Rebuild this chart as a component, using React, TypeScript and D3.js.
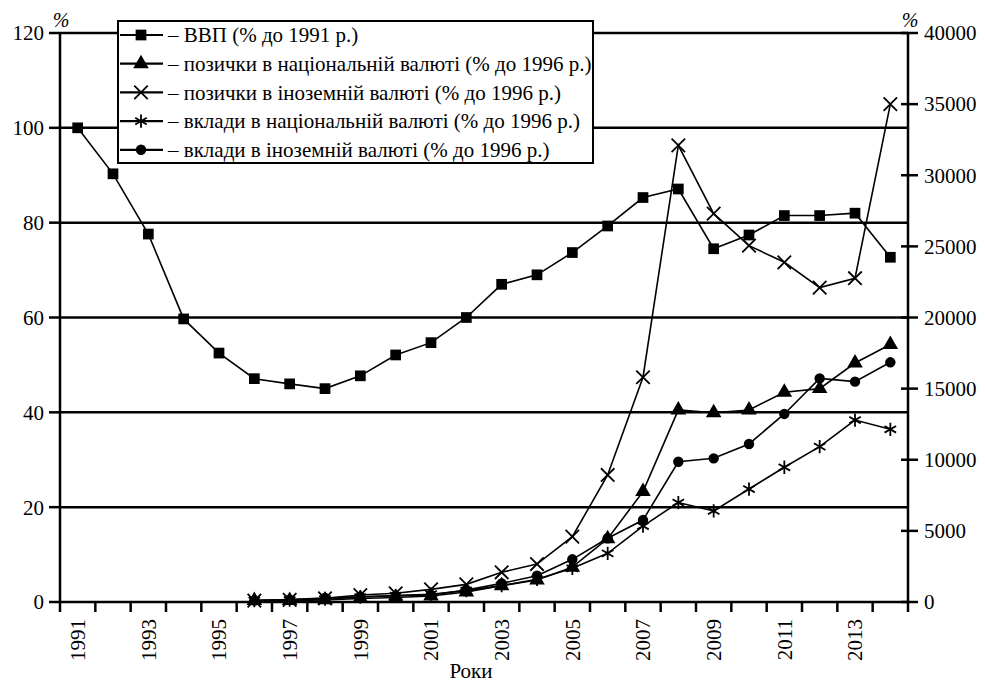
import React from "react";
import * as d3 from "d3";

const years = d3.range(1991, 2015).map(String);
const gdp = [100, 90.3, 77.6, 59.7, 52.5, 47.1, 46.0, 45.0, 47.7, 52.1, 54.7, 60.0, 67.0, 69.0, 73.7, 79.3, 85.3, 87.1, 74.5, 77.4, 81.5, 81.5, 82.0, 72.7];
const loansNatYears = d3.range(1996, 2015).map(String);
const loansNat = [100, 110, 150, 250, 320, 420, 700, 1150, 1550, 2450, 4450, 7760, 13500, 13300, 13500, 14750, 15000, 16800, 18100];
const loansFor = [100, 150, 260, 490, 610, 890, 1240, 2090, 2670, 4590, 8930, 15800, 32100, 27300, 25050, 23880, 22100, 22760, 35000];
const depNat = [100, 130, 200, 350, 450, 550, 800, 1150, 1600, 2370, 3420, 5340, 6990, 6400, 7940, 9470, 10920, 12790, 12140];
const depFor = [100, 170, 280, 370, 440, 490, 840, 1310, 1850, 3000, 4480, 5760, 9860, 10100, 11110, 13220, 15720, 15490, 16850];
const leftTicks = [0, 20, 40, 60, 80, 100, 120];
const rightTicks = d3.range(0, 40001, 5000);
const legendLabels = [
  "– ВВП (% до 1991 р.)",
  "– позички в національній валюті (% до 1996 р.)",
  "– позички в іноземній валюті (% до 1996 р.)",
  "– вклади в національній валюті (% до 1996 р.)",
  "– вклади в іноземній валюті (% до 1996 р.)",
];

const W = 985, H = 684;
const L = 60, R = 908, T = 33, B = 602;
const FONT = "Liberation Serif, Tinos, Times New Roman, DejaVu Serif, serif";

type Mk = "square" | "triangle" | "times" | "asterisk" | "circle";
const symType: Record<Mk, d3.SymbolType> = {
  square: d3.symbolSquare,
  triangle: d3.symbolTriangle,
  times: d3.symbolTimes,
  asterisk: d3.symbolAsterisk,
  circle: d3.symbolCircle,
};
const symSize: Record<Mk, number> = { square: 115, triangle: 105, times: 120, asterisk: 125, circle: 85 };

function Marker({ kind, x, y }: { kind: Mk; x: number; y: number }) {
  const p = d3.symbol().type(symType[kind]).size(symSize[kind])()!;
  const stroke = kind === "times" || kind === "asterisk";
  return (
    <path
      d={p}
      transform={`translate(${x},${y})`}
      fill={stroke ? "none" : "#000"}
      stroke={stroke ? "#000" : "none"}
      strokeWidth={stroke ? 1.8 : 0}
    />
  );
}

const ts: React.CSSProperties = { fontFamily: FONT };

export default function App() {
  const x = d3.scaleBand().domain(years).range([L, R]).padding(0);
  const bw = x.bandwidth();
  const cx = (yr: string) => (x(yr) as number) + bw / 2;
  const yL = d3.scaleLinear().domain([0, 120]).range([B, T]);
  const yR = d3.scaleLinear().domain([0, 40000]).range([B, T]);

  const series: { kind: Mk; yrs: string[]; vals: number[]; scale: d3.ScaleLinear<number, number> }[] = [
    { kind: "square", yrs: years, vals: gdp, scale: yL },
    { kind: "triangle", yrs: loansNatYears, vals: loansNat, scale: yR },
    { kind: "times", yrs: loansNatYears, vals: loansFor, scale: yR },
    { kind: "asterisk", yrs: loansNatYears, vals: depNat, scale: yR },
    { kind: "circle", yrs: loansNatYears, vals: depFor, scale: yR },
  ];

  const line = d3.line<[number, number]>().x((d) => d[0]).y((d) => d[1]);

  const lgX = 118, lgY = 21, lgW = 475, lgH = 142, rowH = 28.7;

  return (
    <svg width={W} height={H} style={{ position: "absolute", left: 0, top: 0, background: "#fff", fontFamily: FONT }}>
      <rect x={0} y={0} width={W} height={H} fill="#fff" />
      {leftTicks.filter((t) => t > 0).map((t) => (
        <line key={"g" + t} x1={L} x2={R} y1={yL(t)} y2={yL(t)} stroke="#000" strokeWidth={2.5} />
      ))}
      <line x1={L} x2={L} y1={T} y2={B} stroke="#000" strokeWidth={2.5} />
      {leftTicks.map((t) => (
        <g key={"l" + t}>
          <line x1={L - 11} x2={L} y1={yL(t)} y2={yL(t)} stroke="#000" strokeWidth={2.5} />
          <text x={L - 16} y={yL(t)} dy="0.35em" textAnchor="end" fontSize={21} style={ts}>{t}</text>
        </g>
      ))}
      <line x1={R} x2={R} y1={T} y2={B} stroke="#000" strokeWidth={2.5} />
      {rightTicks.map((t) => (
        <g key={"r" + t}>
          <line x1={R - 7} x2={R + 10} y1={yR(t)} y2={yR(t)} stroke="#000" strokeWidth={2.5} />
          <text x={R + 16} y={yR(t)} dy="0.35em" textAnchor="start" fontSize={21} style={ts}>{t}</text>
        </g>
      ))}
      <line x1={L} x2={R} y1={B} y2={B} stroke="#000" strokeWidth={2.5} />
      {[...years.map((yr) => x(yr) as number), R].map((px, i) => (
        <line key={"bt" + i} x1={px} x2={px} y1={B} y2={B + 10} stroke="#000" strokeWidth={2.5} />
      ))}
      {years.filter((_, i) => i % 2 === 0).map((yr) => (
        <text key={"yl" + yr} transform={`translate(${cx(yr)},${B + 17}) rotate(-90)`} dy="0.35em" textAnchor="end" fontSize={21} style={ts}>{yr}</text>
      ))}
      <text x={471} y={678} textAnchor="middle" fontSize={21} style={ts}>Роки</text>
      <text x={61} y={27} textAnchor="middle" fontSize={20} fontStyle="italic" style={ts}>%</text>
      <text x={910} y={27} textAnchor="middle" fontSize={20} fontStyle="italic" style={ts}>%</text>

      {series.map((s, si) => {
        const pts: [number, number][] = s.yrs.map((yr, i) => [cx(yr), s.scale(s.vals[i])]);
        return (
          <g key={"s" + si}>
            <path d={line(pts)!} fill="none" stroke="#000" strokeWidth={1.6} />
            {pts.map((p, i) => <Marker key={i} kind={s.kind} x={p[0]} y={p[1]} />)}
          </g>
        );
      })}

      <rect x={lgX} y={lgY} width={lgW} height={lgH} fill="#fff" stroke="#000" strokeWidth={2} />
      {series.map((s, i) => {
        const yy = lgY + 14 + i * rowH;
        return (
          <g key={"lg" + i}>
            <line x1={lgX + 2} x2={lgX + 45} y1={yy} y2={yy} stroke="#000" strokeWidth={2.2} />
            <Marker kind={s.kind} x={lgX + 23} y={yy} />
            <text x={lgX + 50} y={yy} dy="0.35em" fontSize={21} style={ts}>{legendLabels[i]}</text>
          </g>
        );
      })}
    </svg>
  );
}
